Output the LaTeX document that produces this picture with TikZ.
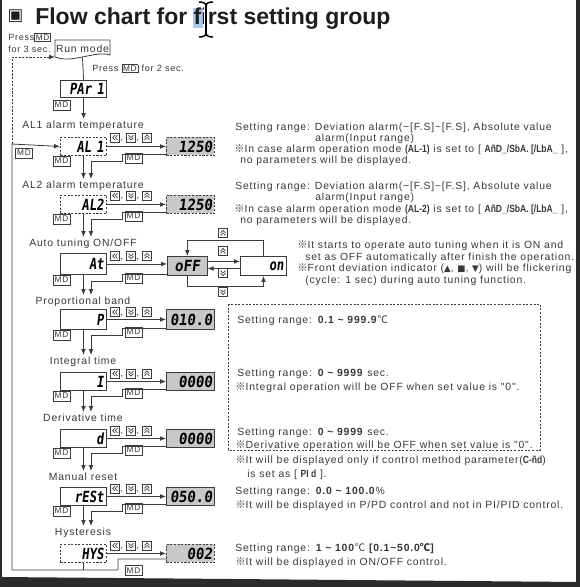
\documentclass[tikz,border=0pt]{standalone}
\usepackage{fontspec}
\setmainfont{Liberation Sans}
\newfontfamily\descfont[LetterSpace=8]{Liberation Sans}
\newfontfamily\segtext[FakeStretch=0.82]{Liberation Sans}
\newfontfamily\segfont[FakeSlant=0.12, FakeStretch=0.8]{DejaVu Sans Mono}
\newfontfamily\segval[FakeSlant=0.12, FakeStretch=0.92]{DejaVu Sans Mono}
\newfontfamily\cjkfont{Noto Sans CJK KR}
\newfontfamily\djvfont{DejaVu Sans}
\usetikzlibrary{calc,arrows.meta}
\definecolor{ln}{HTML}{3C3C3C}
\definecolor{txt}{HTML}{383838}
\definecolor{vfill}{HTML}{C8C8C8}
\definecolor{framec}{HTML}{2B2B2B}
\definecolor{titlec}{HTML}{1E1E1E}
\definecolor{selc}{HTML}{A9C8EA}
\setlength{\fboxsep}{0.7pt}
\setlength{\fboxrule}{0.5pt}
\newcommand\rmk{{\cjkfont ※}}
\newcommand\degc{{\cjkfont ℃}}
\newcommand\tld{{\char"7E}}
\newcommand\sg[1]{{\segtext\bfseries #1}}
\newcommand\mdb{\fcolorbox{ln}{white}{\fontsize{6.2}{7}\selectfont MD}}
\newcommand\keys[1]{%
  \pic at (115,#1) {kL}; \node[comma] at (122,#1+3.5) {,};
  \pic at (131,#1) {kD}; \node[comma] at (138,#1+3.5) {,};
  \pic at (147,#1) {kU};}
\tikzset{
  line/.style={draw=ln, line width=0.6pt},
  arr/.style={line, -{Latex[length=4.5pt,width=3.6pt]}},
  desc/.style={font=\descfont\fontsize{7.8}{9}\selectfont, text=txt, inner sep=0pt, anchor=base west},
  small/.style={font=\descfont\fontsize{6.8}{8}\selectfont, text=txt, inner sep=0pt, anchor=base west},
  lbl/.style={font=\descfont\fontsize{7.8}{9}\selectfont, text=txt, inner sep=0pt, anchor=base},
  comma/.style={font=\descfont\fontsize{7}{8}\selectfont, text=txt, inner sep=0pt},
  pbox/.style={draw=ln, line width=0.7pt, anchor=north west, inner xsep=2pt, inner ysep=0pt,
    text width=30.5pt, align=right, font=\segfont\bfseries\fontsize{11.5}{12}\selectfont},
  vbox/.style={pbox, fill=vfill, text width=33pt, inner xsep=1.5pt, font=\segval\bfseries\fontsize{11.5}{12}\selectfont},
  dsh/.style={dash pattern=on 1.6pt off 1.1pt},
  mdn/.style={draw=ln, line width=0.45pt, fill=white, font=\descfont\fontsize{6.2}{7}\selectfont,
    text=txt, inner sep=0.6pt, minimum width=12.75pt, minimum height=7.5pt},
  kbox/.style={draw=ln, line width=0.45pt, fill=white},
  kL/.pic={\draw[kbox] (-4.5,-4.5) rectangle (4.5,4.5);
    \draw[ln, line width=0.5pt] (0,-2.5) -- (-2.3,0) -- (0,2.5) (2.6,-2.5) -- (0.3,0) -- (2.6,2.5);},
  kD/.pic={\draw[kbox] (-4.5,-4.5) rectangle (4.5,4.5);
    \draw[ln, line width=0.5pt] (-2.5,-2.4) -- (0,0) -- (2.5,-2.4) (-2.5,0.2) -- (0,2.6) -- (2.5,0.2);},
  kU/.pic={\draw[kbox] (-4.5,-4.5) rectangle (4.5,4.5);
    \draw[ln, line width=0.5pt] (-2.5,2.4) -- (0,0) -- (2.5,2.4) (-2.5,-0.2) -- (0,-2.6) -- (2.5,-0.2);},
}
\begin{document}
\begin{tikzpicture}[x=0.75pt, y=-0.75pt]
\useasboundingbox (0,0) rectangle (580,587);
\fill[white] (0,0) rectangle (580,587);
% frame
\fill[framec] (0,0) rectangle (2.5,587);
\fill[framec] (575.5,0) rectangle (580,587);
\fill[framec] (0,577) -- (580,582) -- (580,587) -- (0,587) -- cycle;

% title
\fill[selc] (193,8) rectangle (203,28);
\node[font=\djvfont\fontsize{12.5}{13}\selectfont, text=titlec, inner sep=0pt] (sq) at (15.5,16.5) {▣};
\node[anchor=base west, inner sep=0pt, font=\bfseries\fontsize{17.25}{18}\selectfont, text=titlec] (title) at (35,24) {Flow chart for first setting group};
\draw[white, line width=3pt] (206,5) -- (206,34);
\draw[black, line width=1.6pt] (206,5) -- (206,34);
\draw[black, line width=1.1pt] (199,2) .. controls (203,2) and (206,3) .. (206,6) .. controls (206,3) and (209,2) .. (213,2);
\draw[black, line width=1.1pt] (199,37) .. controls (203,37) and (206,36) .. (206,33) .. controls (206,36) and (209,37) .. (213,37);

% top-left
\node[small] (pr3) at (8,40) {Press\mdb};
\node[small] (pr3b) at (8,52.5) {for 3 sec.};
\node[inner sep=0pt, minimum width=41.25pt, minimum height=12.75pt, font=\descfont\fontsize{7.8}{9}\selectfont, text=txt] (rm) at (82.5,48.5) {Run mode};
\draw[line] (55,57) -- (55,40) -- (110,40) -- (110,55) .. controls (96,50) and (72,64) .. (55,57);
\coordinate (rmin) at (55,57);
\node[small] (pr2) at (92,71.5) {Press \mdb\ for 2 sec.};

% PAr1
\node[pbox, line width=0.9pt, minimum height=12.75pt] (par) at (60,80) {PAr 1};
\node[mdn] (mdp) at (61.5,105) {MD};
\draw[line] (rm.south) -- (par.north);

% tips
\coordinate (t1) at (0,119);
\coordinate (t2) at (0,179);
\coordinate (t3) at (0,237);
\coordinate (t4) at (0,295);
\coordinate (t5) at (0,355);
\coordinate (t6) at (0,412);
\coordinate (t7) at (0,471);
\coordinate (t8) at (0,526);
\coordinate (xa) at (91,0);
\draw[arr] (par.south) -- (par.south |- t1);

% AL1
\node[lbl] (lal1) at (83,128.5) {AL1 alarm temperature};
\node[pbox, dsh, minimum height=13.5pt] (al1) at (60,137) {AL 1};
\node[vbox, dsh, minimum height=13.5pt] (v1) at (166,137) {1250};
\draw[arr] (al1.east) -- (v1.west);
\keys{137.5}
\node[mdn] (md1a) at (61.5,161) {MD};
\node[mdn] (md1b) at (133.5,158) {MD};
\draw[arr] (al1.south) -- (al1.south |- t2);
\draw[arr] ($(v1.south west)+(0,-2)$) -- ++(-44,0) -- ++(0,7) -| (xa |- t2);

% AL2
\node[lbl] (lal2) at (83,188.5) {AL2 alarm temperature};
\node[pbox, dsh, minimum height=13.5pt] (al2) at (60,195) {AL2};
\node[vbox, dsh, minimum height=13.5pt] (v2) at (166,195) {1250};
\draw[arr] (al2.east) -- (v2.west);
\keys{195.5}
\node[mdn] (md2a) at (61.5,219) {MD};
\node[mdn] (md2b) at (133.5,216) {MD};
\draw[arr] (al2.south) -- (al2.south |- t3);
\draw[arr] ($(v2.south west)+(0,-2)$) -- ++(-44,0) -- ++(0,7) -| (xa |- t3);

% At
\node[lbl] (lat) at (83,246.5) {Auto tuning ON/OFF};
\node[pbox, minimum height=15.75pt] (at) at (60,253) {At};
\node[vbox, text width=26.75pt, minimum height=14.25pt, align=center] (off) at (167,256) {oFF};
\node[pbox, text width=30.5pt, minimum height=14.25pt] (on) at (240,256) {on};
\draw[arr] (at.east) -- (at.east -| off.west);
\keys{256}
\draw[arr] ([yshift=3.4pt]off.east) -- ([yshift=3.4pt]off.east -| on.west);
\draw[arr] ([yshift=-1.9pt]on.west) -- ([yshift=-1.9pt]on.west -| off.east);
\draw[arr] (on.north) -- ++(0,-16) -| (off.north);
\draw[arr] (off.south) -- ++(0,10) -| (on.south);
\pic at (223,233) {kU};
\pic at (223,251) {kU};
\pic at (223,273) {kD};
\pic at (223,292) {kD};
\node[mdn] (md3a) at (61.5,280) {MD};
\node[mdn] (md3b) at (133.5,278) {MD};
\draw[arr] (at.south) -- (at.south |- t4);
\draw[arr] ($(off.south west)+(0,-2)$) -- ++(-45,0) -- ++(0,7) -| (xa |- t4);

% P
\node[lbl] (lp) at (83,304.5) {Proportional band};
\node[pbox, minimum height=15pt] (p) at (60,309) {P};
\node[vbox, minimum height=15pt] (v4) at (166,309) {010.0};
\draw[arr] (p.east) -- (v4.west);
\keys{312}
\node[mdn] (md4a) at (61.5,335) {MD};
\node[mdn] (md4b) at (133.5,332) {MD};
\draw[arr] (p.south) -- (p.south |- t5);
\draw[arr] ($(v4.south west)+(0,-2)$) -- ++(-44,0) -- ++(0,7) -| (xa |- t5);

% I
\node[lbl] (li) at (83,364.5) {Integral time};
\node[pbox, minimum height=13.5pt] (ii) at (60,372) {I};
\node[vbox, minimum height=13.5pt] (v5) at (166,372) {0000};
\draw[arr] (ii.east) -- (v5.west);
\keys{373.5}
\node[mdn] (md5a) at (61.5,396) {MD};
\node[mdn] (md5b) at (133.5,393) {MD};
\draw[arr] (ii.south) -- (ii.south |- t6);
\draw[arr] ($(v5.south west)+(0,-2)$) -- ++(-44,0) -- ++(0,7) -| (xa |- t6);

% d
\node[lbl] (ld) at (83,421.5) {Derivative time};
\node[pbox, minimum height=13.5pt] (dd) at (60,429) {d};
\node[vbox, minimum height=13.5pt] (v6) at (166,429) {0000};
\draw[arr] (dd.east) -- (v6.west);
\keys{430.5}
\node[mdn] (md6a) at (61.5,453) {MD};
\node[mdn] (md6b) at (133.5,450) {MD};
\draw[arr] (dd.south) -- (dd.south |- t7);
\draw[arr] ($(v6.south west)+(0,-2)$) -- ++(-44,0) -- ++(0,7) -| (xa |- t7);

% rESt
\node[lbl] (lr) at (83,480.5) {Manual reset};
\node[pbox, minimum height=13.5pt] (rs) at (60,487) {rESt};
\node[vbox, minimum height=13.5pt] (v7) at (166,487) {050.0};
\draw[arr] (rs.east) -- (v7.west);
\keys{488.5}
\node[mdn] (md7a) at (61.5,511) {MD};
\node[mdn] (md7b) at (133.5,508) {MD};
\draw[arr] (rs.south) -- (rs.south |- t8);
\draw[arr] ($(v7.south west)+(0,-2)$) -- ++(-44,0) -- ++(0,7) -| (xa |- t8);

% HYS
\node[lbl] (lh) at (83,535.5) {Hysteresis};
\node[pbox, dsh, minimum height=13.5pt] (hy) at (60,544) {HYS};
\node[vbox, dsh, minimum height=13.5pt] (v8) at (166,544) {002};
\draw[arr] (hy.east) -- (v8.west);
\keys{545.5}
\node[mdn] (md8b) at (133.5,570.5) {MD};
\coordinate (bl) at (0,570);
\draw[line] (hy.south) -- (hy.south |- bl);
\draw[arr] ($(v8.south west)+(0,-4)$) -| (118,570) -- (12,570) -- (12,144) -- (al1.west);
\draw[arr, dsh] (12,144) -- (12,57) -- (rmin);
\node[mdn] (mdl) at (24,153) {MD};

% descriptions
\node[desc] at (235,130.5) {Setting range: Deviation alarm(−[F.S]\tld[F.S], Absolute value};
\node[desc] at (315,141.5) {alarm(Input range)};
\node[desc] at (234,152.5) {\rmk In case alarm operation mode \sg{(AL-1)} is set to [ \sg{AñD\_/SbA. [/LbA\_} ],};
\node[desc] at (240,163.5) {no parameters will be displayed.};
\node[desc] at (235,189.5) {Setting range: Deviation alarm(−[F.S]\tld[F.S], Absolute value};
\node[desc] at (315,200.5) {alarm(Input range)};
\node[desc] at (234,212.5) {\rmk In case alarm operation mode \sg{(AL-2)} is set to [ \sg{AñD\_/SbA. [/LbA\_} ],};
\node[desc] at (240,223.5) {no parameters will be displayed.};

\node[desc] at (297,248.5) {\rmk It starts to operate auto tuning when it is ON and};
\node[desc] at (305,260.5) {set as OFF automatically after finish the operation.};
\node[desc] at (297,271.5) {\rmk Front deviation indicator ({\djvfont\fontsize{6.5}{8}\selectfont ▲}, {\djvfont\fontsize{6.5}{8}\selectfont ■}, {\djvfont\fontsize{6.5}{8}\selectfont ▼}) will be flickering};
\node[desc] at (305,283.5) {(cycle: 1 sec) during auto tuning function.};

\draw[ln, line width=0.5pt, dash pattern=on 1.5pt off 1.2pt] (228,304) rectangle (540,450);
\node[desc] at (237,323.5) {Setting range: \textbf{0.1 \tld\ 999.9}\degc};
\node[desc] at (237,376.5) {Setting range: \textbf{0 \tld\ 9999} sec.};
\node[desc] at (235,390.5) {\rmk Integral operation will be OFF when set value is "0".};
\node[desc] at (237,435.5) {Setting range: \textbf{0 \tld\ 9999} sec.};
\node[desc] at (235,448) {\rmk Derivative operation will be OFF when set value is "0".};

\node[desc] at (235,463.5) {\rmk It will be displayed only if control method parameter(\sg{C-ñd})};
\node[desc] at (247,477.5) {is set as [ \sg{PI d} ].};
\node[desc] at (235,494.5) {Setting range: \textbf{0.0 \tld\ 100.0}\%};
\node[desc] at (235,508.5) {\rmk It will be displayed in P/PD control and not in PI/PID control.};
\node[desc] at (235,551.5) {Setting range: \textbf{1 \tld\ 100}\degc\ \textbf{[0.1\tld 50.0\degc]}};
\node[desc] at (235,565.5) {\rmk It will be displayed in ON/OFF control.};
\end{tikzpicture}
\end{document}
